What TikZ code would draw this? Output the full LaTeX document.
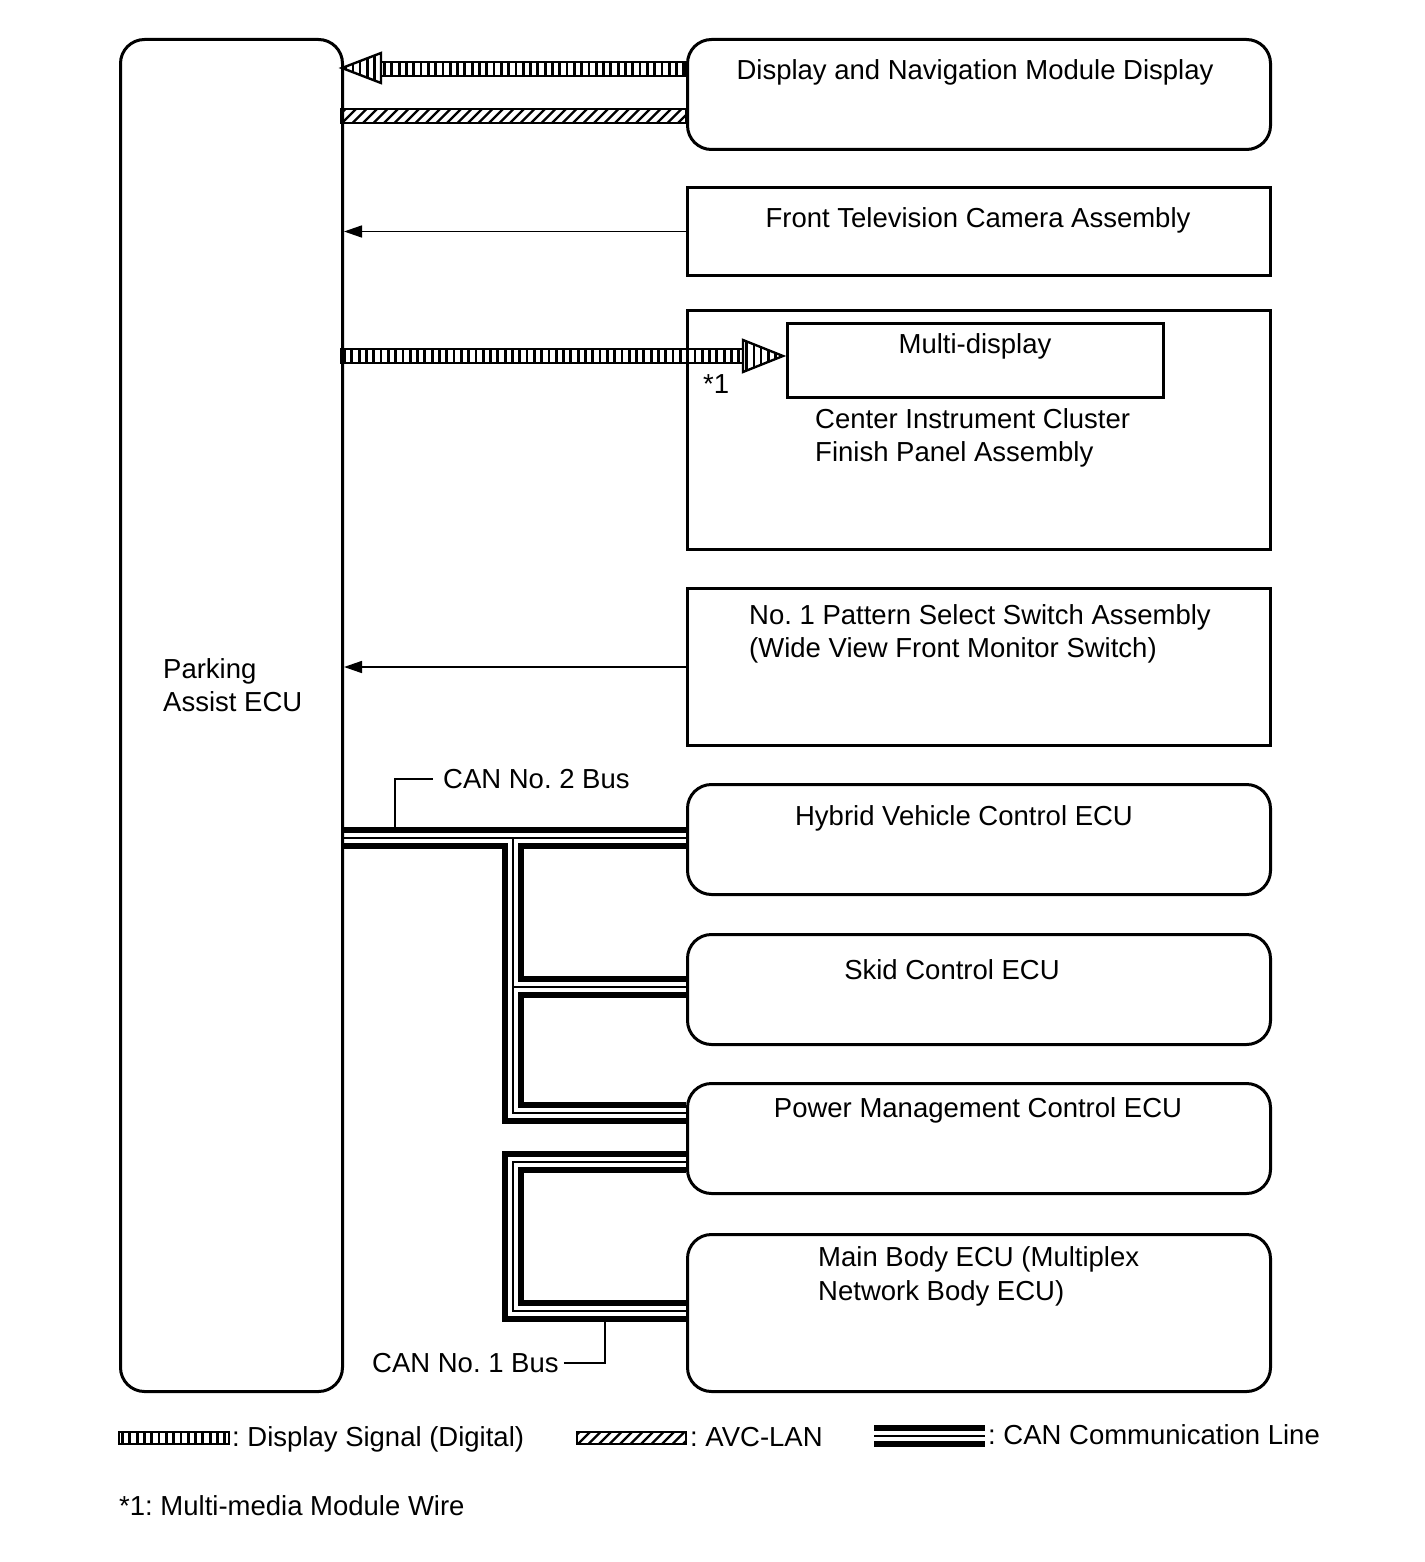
\documentclass[tikz,border=0pt]{standalone}
\usepackage{fontspec}
\setmainfont{Liberation Sans}
\usetikzlibrary{arrows.meta,calc,backgrounds}
\frenchspacing
% digital display band: x1, x2, ycenter, halfheight
\newcommand\dband[4]{%
  \fill[white] (#1,{#3-#4}) rectangle (#2,{#3+#4});
  \begin{scope}
    \clip (#1,{#3-#4}) rectangle (#2,{#3+#4});
    \foreach \k in {0,...,70} \draw[line width=2.8pt] ({#1+3.5+\k*7.3},{#3-#4}) -- ++(0,{2*#4});
  \end{scope}
  \draw[line width=2.4pt] (#1,{#3-#4}) rectangle (#2,{#3+#4});
}
% striped hollow head: base x, tip x, ycenter, halfheight
\newcommand\dhead[4]{%
  \fill[white] (#1,{#3-#4}) -- (#2,#3) -- (#1,{#3+#4}) -- cycle;
  \begin{scope}
    \clip (#1,{#3-#4}) -- (#2,#3) -- (#1,{#3+#4}) -- cycle;
    \foreach \k in {0,...,7} \draw[line width=2.6pt] ({min(#1,#2)+3.5+\k*7.3},{#3-#4}) -- ++(0,{2*#4});
  \end{scope}
  \draw[line width=2.4pt, line join=miter] (#1,{#3-#4}) -- (#2,#3) -- (#1,{#3+#4}) -- cycle;
}
% AVC-LAN hatched band: x1, x2, ytop, ybot
\newcommand\aband[4]{%
  \fill[white] (#1,#3) rectangle (#2,#4);
  \begin{scope}
    \clip (#1,#3) rectangle (#2,#4);
    \foreach \k in {0,...,40} \draw[line width=2.4pt] ({#1-20+\k*10.5},#4) -- ++(16,-16);
  \end{scope}
  \draw[line width=2.4pt] (#1,#3) rectangle (#2,#4);
}
\newcommand\canroutes[1]{%
  \draw[#1] (pa.east |- 0,838) -- (686,838);
  \draw[#1] (513,838) -- (513,1113) -- (686,1113);
  \draw[#1] (513,987) -- (686,987);
  \draw[#1] (686,1162) -- (513,1162) -- (513,1311) -- (686,1311);
  \draw[#1] (874,1436) -- (985,1436);
}
\begin{document}
\begin{tikzpicture}[x=1pt,y=-1pt,
  box/.style={draw, line width=3pt, inner sep=0pt, anchor=north west},
  rbox/.style={box, rounded corners=24pt},
  txt/.style={inner sep=0pt, font=\fontsize{27.5}{33}\selectfont},
  thinarrow/.style={line width=1.6pt, -{Triangle[length=18pt,width=12pt]}},
  canouter/.style={line width=22pt, line join=miter},
  canwhite/.style={draw=white, line width=10pt, line join=miter},
  caninner/.style={line width=1.8pt, line join=miter},
  leader/.style={line width=2pt}
]
\useasboundingbox (0,0) rectangle (1424,1562);

% boxes
\node[rbox, minimum width=222pt, minimum height=1352pt] (pa) at (119,38) {};
\node[rbox, minimum width=583pt, minimum height=110pt] (dnm) at (686,38) {};
\node[box, minimum width=583pt, minimum height=88pt] (ftc) at (686,186) {};
\node[box, minimum width=583pt, minimum height=239pt] (cic) at (686,309) {};
\node[box, minimum width=376pt, minimum height=74pt] (md) at (786,322) {};
\node[box, minimum width=583pt, minimum height=157pt] (pss) at (686,587) {};
\node[rbox, minimum width=583pt, minimum height=110pt] (hv) at (686,783) {};
\node[rbox, minimum width=583pt, minimum height=110pt] (skid) at (686,933) {};
\node[rbox, minimum width=583pt, minimum height=110pt] (pm) at (686,1082) {};
\node[rbox, minimum width=583pt, minimum height=157pt] (mb) at (686,1233) {};

% texts
\node[txt, anchor=base] (tdnm) at (975,80) {Display and Navigation Module Display};
\node[txt, anchor=base] (tftc) at (978,228) {Front Television Camera Assembly};
\node[txt, anchor=base] (tmd) at (975,353) {Multi-display};
\node[txt, anchor=base west] (tstar) at (703,393) {*1};
\node[txt, anchor=base west] (tcic1) at (815,428) {Center Instrument Cluster};
\node[txt, anchor=base west] (tcic2) at (815,461) {Finish Panel Assembly};
\node[txt, anchor=base west] (tpss1) at (749,624) {No. 1 Pattern Select Switch Assembly};
\node[txt, anchor=base west] (tpss2) at (749,657) {(Wide View Front Monitor Switch)};
\node[txt, anchor=base west] (tpa1) at (163,678) {Parking};
\node[txt, anchor=base west] (tpa2) at (163,711) {Assist ECU};
\node[txt, anchor=base west] (tc2) at (443,788) {CAN No. 2 Bus};
\node[txt, anchor=base] (thv) at (964,825) {Hybrid Vehicle Control ECU};
\node[txt, anchor=base] (tskid) at (952,979) {Skid Control ECU};
\node[txt, anchor=base] (tpm) at (978,1117) {Power Management Control ECU};
\node[txt, anchor=base west] (tmb1) at (818,1266) {Main Body ECU (Multiplex};
\node[txt, anchor=base west] (tmb2) at (818,1300) {Network Body ECU)};
\node[txt, anchor=base west] (tc1) at (372,1372) {CAN No. 1 Bus};
\node[txt, anchor=base west] (tl1) at (232,1446) {: Display Signal (Digital)};
\node[txt, anchor=base west] (tl2) at (690,1446) {: AVC-LAN};
\node[txt, anchor=base west] (tl3) at (988,1444) {: CAN Communication Line};
\node[txt, anchor=base west] (tnote) at (119,1515) {*1: Multi-media Module Wire};

\begin{scope}[on background layer]
  % display signal to parking ECU
  \dband{381}{686}{69}{7}
  \dhead{381}{342}{68}{15}
  % AVC-LAN
  \aband{341}{686}{109}{123}
  % display signal to multi-display
  \dband{341}{743}{356}{7}
  \dhead{743}{783}{356}{16}
  % CAN
  \canroutes{canouter}
  \canroutes{canwhite}
  \canroutes{caninner}
  % legend bands
  \dband{119}{229}{1438}{6}
  \aband{577}{686}{1432}{1444}
\end{scope}

% thin arrows
\draw[thinarrow] (ftc.west) -- (ftc.west -| pa.east);
\draw[thinarrow] (pss.west) -- (pss.west -| pa.east);

% leaders
\draw[leader] (395,827) |- ([xshift=-10pt]tc2.west);
\draw[leader] ([xshift=5pt]tc1.east) -| (605,1322);
\end{tikzpicture}
\end{document}
